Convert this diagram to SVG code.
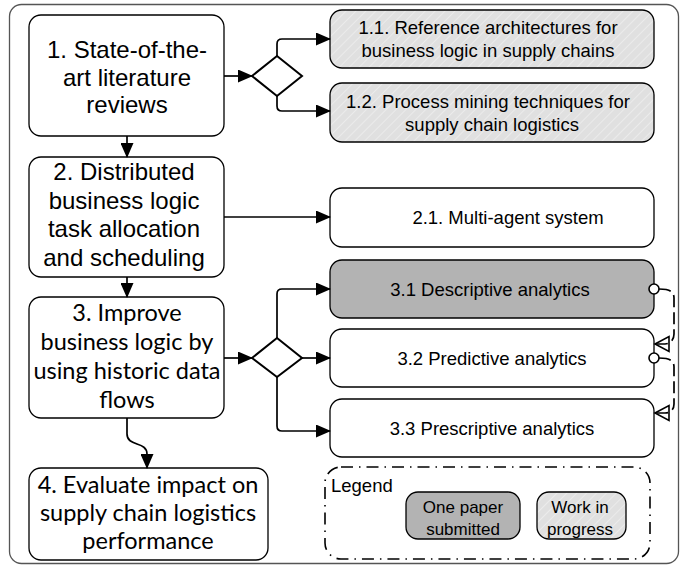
<svg xmlns="http://www.w3.org/2000/svg" width="687" height="567" viewBox="0 0 687 567">
<defs>
<pattern id="hatch" patternUnits="userSpaceOnUse" width="7" height="7" patternTransform="rotate(45)">
<rect width="7" height="7" fill="#e0e0e0"/>
<line x1="0" y1="0" x2="0" y2="7" stroke="#f4f4f4" stroke-width="1.2"/>
</pattern>
<marker id="arr" markerUnits="userSpaceOnUse" markerWidth="15" markerHeight="13" refX="14" refY="6.5" orient="auto">
<path d="M0,0 L15,6.5 L0,13 z" fill="#000"/>
</marker>
</defs>
<style>
.frame{fill:#fff;stroke:#555;stroke-width:1.3}
.box{fill:#fff;stroke:#000;stroke-width:1.3}
.hat{fill:url(#hatch);stroke:#000;stroke-width:1.3}
.dark{fill:#b3b3b3;stroke:#000;stroke-width:1.3}
.dia{fill:#fff;stroke:#000;stroke-width:2}
.t{font-family:"Liberation Sans",Arial,sans-serif;fill:#000;text-anchor:middle}
.big{font-size:24px}
.cal{font-family:Lato,"Liberation Sans",sans-serif;font-size:23.5px;fill:#000;text-anchor:middle}
.sm{font-size:18.5px}
.lg{font-size:17px}
.c{fill:none;stroke:#000;stroke-width:1.7}
.a{marker-end:url(#arr)}
.d{fill:none;stroke:#000;stroke-width:1.7;stroke-dasharray:12 5}
</style>
<rect class="frame" x="9.5" y="4.5" width="669" height="559" rx="12"/>

<g id="n1">
<rect class="box" x="29" y="15" width="195" height="121" rx="12"/>
<text class="t big" x="127" y="58">1. State-of-the-</text>
<text class="t big" x="127" y="85.5">art literature</text>
<text class="t big" x="127" y="113">reviews</text>
</g>
<g id="n2">
<rect class="box" x="29" y="157" width="195" height="120" rx="12"/>
<text class="t big" x="124" y="180">2. Distributed</text>
<text class="t big" x="124" y="208.5">business logic</text>
<text class="t big" x="124" y="237">task allocation</text>
<text class="t big" x="124" y="265.5">and scheduling</text>
</g>
<g id="n3">
<rect class="box" x="29" y="297" width="195" height="121" rx="12"/>
<text class="cal" x="127" y="321">3. Improve</text>
<text class="cal" x="127" y="350">business logic by</text>
<text class="cal" x="127" y="379">using historic data</text>
<text class="cal" x="127" y="408">flows</text>
</g>
<g id="n4">
<rect class="box" x="29" y="468" width="239" height="92" rx="12"/>
<text class="cal" x="148" y="493">4. Evaluate impact on</text>
<text class="cal" x="148" y="521">supply chain logistics</text>
<text class="cal" x="148" y="549">performance</text>
</g>
<g id="d1"><polygon class="dia" points="252,76 277,56 302,76 277,96"/></g>
<g id="d2"><polygon class="dia" points="252,358 277,338 302,358 277,377"/></g>
<g id="n11">
<rect class="hat" x="330" y="10" width="324" height="58" rx="12"/>
<text class="t sm" x="488" y="34">1.1. Reference architectures for</text>
<text class="t sm" x="488" y="57">business logic in supply chains</text>
</g>
<g id="n12">
<rect class="hat" x="330" y="83" width="324" height="59" rx="12"/>
<text class="t sm" x="488" y="107.5">1.2. Process mining techniques for</text>
<text class="t sm" x="492" y="130.5">supply chain logistics</text>
</g>
<g id="n21">
<rect class="box" x="330" y="188" width="324" height="59" rx="12"/>
<text class="t sm" x="508" y="224">2.1. Multi-agent system</text>
</g>
<g id="n31">
<rect class="dark" x="330" y="260" width="324" height="58" rx="12"/>
<text class="t sm" x="490" y="295.5">3.1 Descriptive analytics</text>
</g>
<g id="n32">
<rect class="box" x="330" y="329" width="324" height="58" rx="12"/>
<text class="t sm" x="492" y="364.5">3.2 Predictive analytics</text>
</g>
<g id="n33">
<rect class="box" x="330" y="399" width="324" height="58" rx="12"/>
<text class="t sm" x="492" y="434.5">3.3 Prescriptive analytics</text>
</g>
<g id="legend">
<rect x="325" y="467" width="325" height="92" rx="16" fill="none" stroke="#000" stroke-width="1.6" stroke-dasharray="12 6 1.5 6"/>
<text class="t sm" x="331" y="492" style="text-anchor:start">Legend</text>
<rect class="dark" x="406" y="492" width="114" height="47" rx="12"/>
<text class="t lg" x="463" y="513">One paper</text>
<text class="t lg" x="463" y="535">submitted</text>
<rect class="hat" x="537" y="492" width="89" height="47" rx="12"/>
<text class="t lg" x="580" y="513">Work in</text>
<text class="t lg" x="580" y="535">progress</text>
</g>
<g id="connectors">
<path class="c a" d="M224,76 H252"/>
<path class="c a" d="M277,56 V44 Q277,39 282,39 H330"/>
<path class="c a" d="M277,96 V106 Q277,111 282,111 H330"/>
<path class="c a" d="M127,136 V157"/>
<path class="c a" d="M224,217 H330"/>
<path class="c a" d="M127,277 V297"/>
<path class="c a" d="M224,358 H252"/>
<path class="c a" d="M277,338 V294 Q277,289 282,289 H330"/>
<path class="c a" d="M302,358 H330"/>
<path class="c a" d="M277,377 V426 Q277,431 282,431 H330"/>
<path class="c a" d="M127,418 V434 C127,447 147,441 147,454 V468"/>
<path class="d" d="M659,289 C667,289 674,290 674,298 V334 C674,340 670,344 665,344 H655"/>
<path class="d" d="M659,358 C667,358 674,359 674,367 V404 C674,410 670,413 665,413 H655"/>
<circle cx="654" cy="289" r="5" fill="#fff" stroke="#000" stroke-width="1.6"/>
<circle cx="654" cy="358" r="5" fill="#fff" stroke="#000" stroke-width="1.6"/>
<polygon points="655,344 669,336.5 669,351.5" fill="none" stroke="#000" stroke-width="1.6"/>
<polygon points="655,413 669,405.5 669,420.5" fill="none" stroke="#000" stroke-width="1.6"/>
</g>
</svg>
